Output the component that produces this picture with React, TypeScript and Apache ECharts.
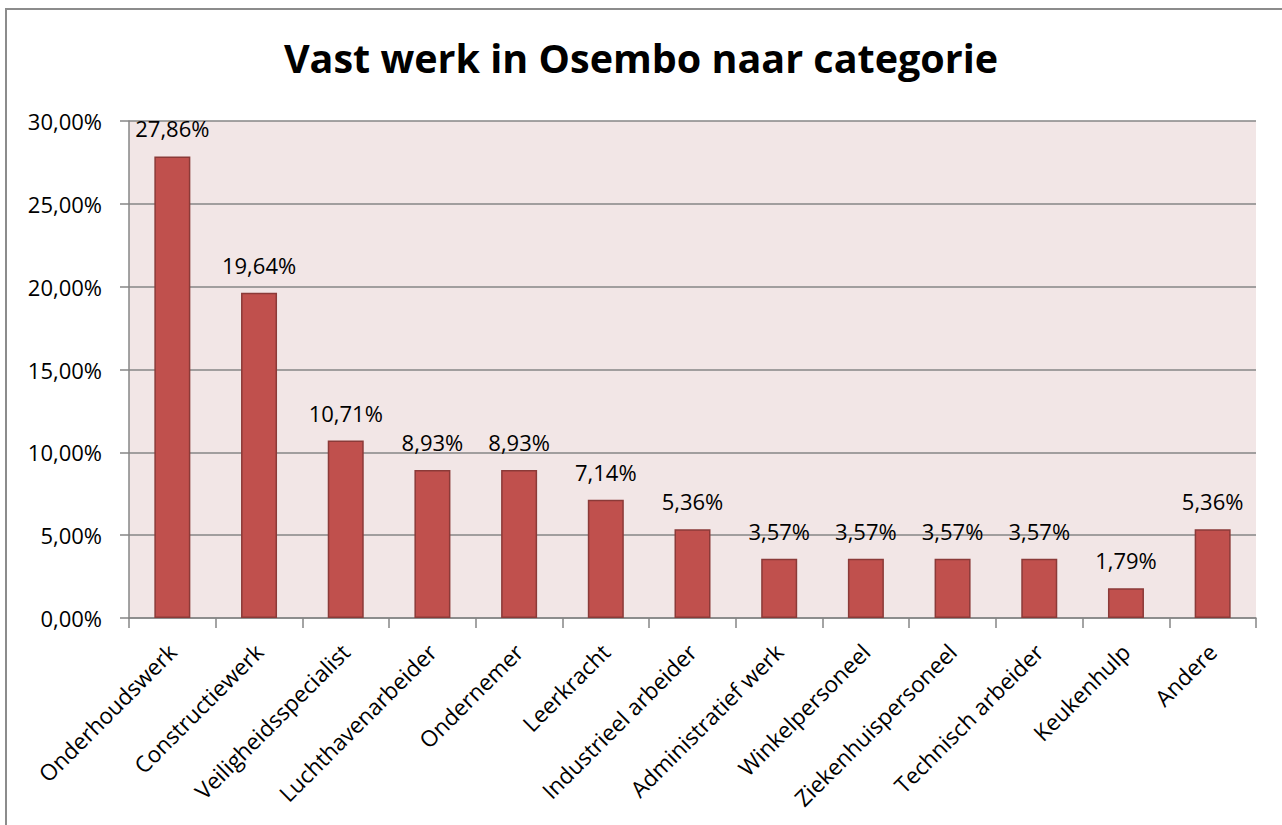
import React, { useEffect, useRef } from "react";
import * as echarts from "echarts";

const categories = [
  "Onderhoudswerk",
  "Constructiewerk",
  "Veiligheidsspecialist",
  "Luchthavenarbeider",
  "Ondernemer",
  "Leerkracht",
  "Industrieel arbeider",
  "Administratief werk",
  "Winkelpersoneel",
  "Ziekenhuispersoneel",
  "Technisch arbeider",
  "Keukenhulp",
  "Andere",
];
const values = [27.86, 19.64, 10.71, 8.93, 8.93, 7.14, 5.36, 3.57, 3.57, 3.57, 3.57, 1.79, 5.36];
const titleText = "Vast werk in Osembo naar categorie";
const yMin = 0;
const yMax = 30;
const yStep = 5;

const fmt = (v: number) => v.toFixed(2).replace(".", ",") + "%";

export default function App() {
  const ref = useRef<HTMLDivElement>(null);
  useEffect(() => {
    if (!ref.current) return;
    const chart = echarts.init(ref.current, null, { renderer: "svg" });
    const font = "'Open Sans', sans-serif";
    chart.setOption({
      animation: false,
      backgroundColor: "#ffffff",
      title: {
        text: titleText,
        left: "center",
        top: 33,
        textStyle: { fontFamily: font, fontWeight: "bold", fontSize: 39.5, color: "#000" },
      },
      graphic: [
        {
          type: "rect",
          shape: { x: 6, y: 9, width: 1300, height: 840 },
          style: { fill: "none", stroke: "#8c8c8c", lineWidth: 2 },
          silent: true,
        },
      ],
      grid: {
        left: 129,
        top: 121,
        right: 26,
        bottom: 207,
        show: true,
        backgroundColor: "#F2E6E6",
        borderWidth: 0,
      },
      xAxis: {
        type: "category",
        data: categories,
        axisLine: { show: true, lineStyle: { color: "#868686", width: 1.5 } },
        axisTick: { show: true, length: 10, lineStyle: { color: "#868686", width: 1.5 } },
        axisLabel: {
          interval: 0,
          rotate: 45,
          margin: 30,
          fontFamily: font,
          fontSize: 22.5,
          color: "#000",
        },
      },
      yAxis: {
        type: "value",
        min: yMin,
        max: yMax,
        interval: yStep,
        axisLine: { show: true, lineStyle: { color: "#868686", width: 1.5 } },
        axisTick: { show: true, length: 9, lineStyle: { color: "#868686", width: 1.5 } },
        splitLine: { show: true, lineStyle: { color: "#868686", width: 1.5 } },
        axisLabel: {
          formatter: (v: number) => fmt(v),
          margin: 27,
          fontFamily: font,
          fontSize: 22,
          color: "#000",
        },
      },
      series: [
        {
          type: "bar",
          data: values,
          barWidth: 36,
          itemStyle: { color: "#C0504D", borderColor: "#8B3A38", borderWidth: 1.5 },
          label: {
            show: true,
            position: "top",
            distance: 17,
            formatter: (p: any) => fmt(p.value),
            fontFamily: font,
            fontSize: 22,
            color: "#000",
          },
        },
      ],
    });
    return () => chart.dispose();
  }, []);
  return (
    <div
      ref={ref}
      style={{ position: "fixed", left: 0, top: 0, width: 1282, height: 825 }}
    />
  );
}
